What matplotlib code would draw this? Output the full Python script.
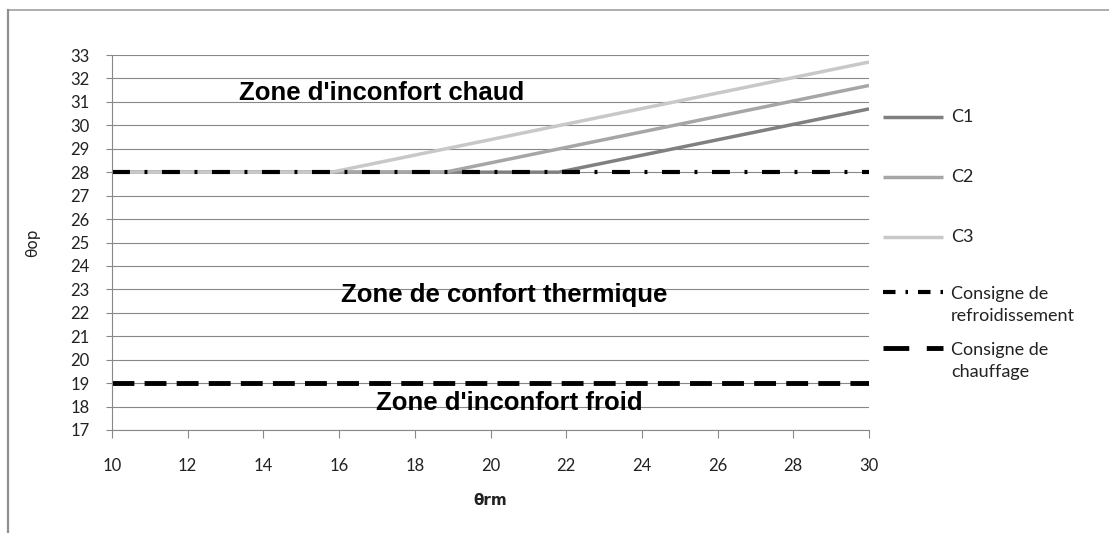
import matplotlib.pyplot as plt
from matplotlib.lines import Line2D

# Chart data
theta_rm_c1 = [10, 21.8, 30]
theta_op_c1 = [28, 28, 30.7]
theta_rm_c2 = [10, 18.8, 30]
theta_op_c2 = [28, 28, 31.7]
theta_rm_c3 = [10, 15.8, 30]
theta_op_c3 = [28, 28, 32.7]
setpoint_x = [10, 30]
cooling_setpoint = [28, 28]
heating_setpoint = [19, 19]

x_ticks = list(range(10, 31, 2))
y_ticks = list(range(17, 34))

zones = [("Zone d'inconfort chaud", 17.13, 31.08),
         ("Zone de confort thermique", 20.36, 22.46),
         ("Zone d'inconfort froid", 20.49, 17.85)]

series_labels = ['C1', 'C2', 'C3', 'Consigne de\nrefroidissement', 'Consigne de\nchauffage']
series_colors = ['#808080', '#a6a6a6', '#c8c8c8', 'black', 'black']

tick_font = ['Lato', 'DejaVu Sans']
zone_font = 'Liberation Sans'

W, H = 1109, 533
fig = plt.figure(figsize=(W / 100, H / 100), dpi=100)
ax = fig.add_axes([112 / W, 1 - 430 / H, (869 - 112) / W, (430 - 55) / H])

cool_dash = (0, (4.3, 3.5, 0.7, 3.5))
heat_dash = (0, (4.5, 2.1))

ax.plot(theta_rm_c1, theta_op_c1, color=series_colors[0], lw=2.5, solid_capstyle='butt')
ax.plot(theta_rm_c2, theta_op_c2, color=series_colors[1], lw=2.5, solid_capstyle='butt')
ax.plot(theta_rm_c3, theta_op_c3, color=series_colors[2], lw=2.5, solid_capstyle='butt')
ax.plot(setpoint_x, cooling_setpoint, color='black', lw=3, linestyle=cool_dash)
ax.plot(setpoint_x, heating_setpoint, color='black', lw=3.5, linestyle=heat_dash)

ax.set_xlim(10, 30)
ax.set_ylim(17, 33)
ax.set_xticks(x_ticks)
ax.set_yticks(y_ticks)
ax.grid(axis='y', color='#888888', lw=0.8)
ax.set_axisbelow(True)

for side in ['top', 'right']:
    ax.spines[side].set_visible(False)
for side in ['left', 'bottom']:
    ax.spines[side].set_color('#888888')
    ax.spines[side].set_linewidth(0.8)

ax.tick_params(axis='x', direction='out', length=6, width=0.8, color='#888888',
               pad=14, labelsize=12, labelcolor='#222222')
ax.tick_params(axis='y', direction='out', length=4, width=0.8, color='#888888',
               pad=12, labelsize=12, labelcolor='#222222')
for lab in ax.get_xticklabels() + ax.get_yticklabels():
    lab.set_fontfamily(tick_font)

ax.set_xlabel('θrm', fontfamily='DejaVu Sans', fontsize=11, fontweight='bold',
              labelpad=14, color='#222222')
ax.set_ylabel('θop', fontfamily='DejaVu Sans', fontsize=11,
              labelpad=22, color='#222222')

for txt, x, y in zones:
    ax.text(x, y, txt, ha='center', va='baseline', fontsize=18.5,
            fontweight='bold', fontfamily=zone_font, color='black')

# legend drawn by hand so handles line up with the first text line
leg_rows = [117, 177, 237, 292, 348]
leg_styles = [('-', 2.5), ('-', 2.5), ('-', 2.5),
              ((0, (3.0, 2.4, 0.6, 2.4)), 3), ((0, (5.3, 3.6)), 3.5)]
for label, color, (ls, lw), y in zip(series_labels, series_colors, leg_styles, leg_rows):
    fy = 1 - y / H
    fig.add_artist(Line2D([883 / W, 943 / W], [fy, fy], color=color, lw=lw,
                          linestyle=ls, solid_capstyle='butt'))
    if '\n' in label:
        fy -= 13 / H  # centre between the two text lines
    fig.text(951 / W, fy, label, ha='left', va='center',
             fontsize=13, fontfamily=tick_font, color='#222222',
             linespacing=1.45, transform=fig.transFigure)

# outer chart frame (only top and left visible in the crop)
fig.add_artist(Line2D([8 / W, 1], [1 - 10 / H, 1 - 10 / H], color='#a0a0a0', lw=1.2))
fig.add_artist(Line2D([8 / W, 8 / W], [0, 1 - 10 / H], color='#909090', lw=1.6))

fig.savefig('out.png', dpi=100)
